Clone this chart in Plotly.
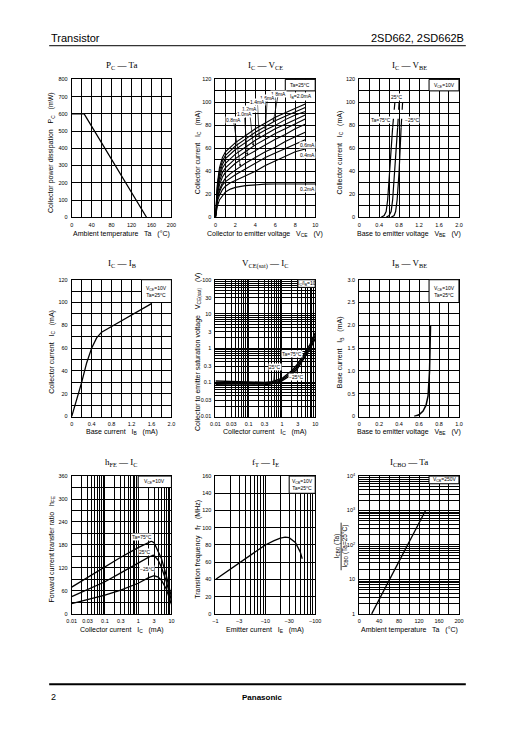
import plotly.graph_objects as go

SANS = "Liberation Sans, Arial, Helvetica, sans-serif"
SERIF = "Liberation Serif, Times New Roman, serif"
PAGE_W, PAGE_H = 516, 729
OFF = 8                      # default body margin of the html page
W, H = PAGE_W - 2 * OFF, PAGE_H - 2 * OFF

# ---------------- data ----------------
# Pc - Ta
pc_ta = [0, 25, 150]
pc_mw = [600, 600, 0]

# Ic - Vce  (Ta = 25 C)
vce_v = [0, 0.05, 0.1, 0.2, 0.4, 0.7, 1, 1.5, 2, 3, 4, 5, 6, 7, 8, 9]
ic_ib20 = [0, 10, 18, 30, 43, 52, 57, 61, 65, 71, 77, 82, 87, 91, 95, 98.5]
ic_ib18 = [0, 9, 17, 28, 40, 49, 54, 58, 62, 68, 74, 79, 84, 88, 92, 95.5]
ic_ib16 = [0, 9, 16, 26, 37, 46, 51, 55, 59, 65, 71, 76, 80, 85, 89, 92]
ic_ib14 = [0, 8, 15, 24, 34, 43, 47, 51, 55, 61, 67, 72, 77, 81, 85, 89]
ic_ib12 = [0, 8, 14, 22, 31, 39, 43, 47, 51, 57, 63, 68, 73, 77, 81, 85.5]
ic_ib10 = [0, 7, 13, 20, 28, 35, 39, 43, 47, 53, 58, 63, 68, 72, 77, 81]
ic_ib08 = [0, 6, 11, 17, 24, 30, 34, 38, 41, 47, 52, 57, 61, 66, 70, 74]
ic_ib06 = [0, 6, 10, 16, 22, 28, 31, 34, 37, 42, 47, 52, 56, 60, 64, 67.5]
ic_ib04 = [0, 5, 9, 14, 19, 24, 27, 30, 32, 36, 40, 45, 49, 53, 57, 59.5]
vce_v02 = [0, 0.05, 0.1, 0.2, 0.4, 0.7, 1, 1.5, 2, 3, 4, 5, 6, 7, 8, 9, 10]
ic_ib02 = [0, 4, 6, 10, 15, 19, 22, 24.5, 26, 27.5, 28.3, 28.8, 29, 29, 29, 29, 29]

# Ic - Vbe
vbe_ic_solid = [0, 1.5, 5, 15, 40, 65, 78]
vbe_ic_dash = [78, 100]
vbe75_solid = [0.44, 0.50, 0.54, 0.57, 0.61, 0.65, 0.67]
vbe75_dash = [0.67, 0.715]
vbe25_solid = [0.54, 0.60, 0.64, 0.67, 0.71, 0.75, 0.77]
vbe25_dash = [0.77, 0.80]
vbem25_solid = [0.64, 0.70, 0.73, 0.76, 0.80, 0.83, 0.84]
vbem25_dash = [0.84, 0.87]

# Ic - Ib
ib_ma = [0, 0.1, 0.2, 0.3, 0.4, 0.5, 0.6, 0.8, 1.0, 1.2, 1.4, 1.6]
ic_of_ib = [0, 14, 30, 47, 60, 69, 74, 79, 84, 89, 94, 99]

# Vce(sat) - Ic
sat_ic = [0.01, 0.03, 0.1, 0.3, 0.5, 1, 2, 3, 5, 7, 10]
sat_75 = [0.085, 0.083, 0.082, 0.085, 0.09, 0.11, 0.17, 0.26, 0.55, 0.95, 1.9]
sat_25 = [0.095, 0.092, 0.09, 0.092, 0.097, 0.12, 0.19, 0.30, 0.65, 1.1, 2.3]
sat_m25 = [0.11, 0.105, 0.10, 0.10, 0.105, 0.13, 0.22, 0.35, 0.75, 1.3, 2.8]

# Ib - Vbe
ibv_vbe = [0.55, 0.60, 0.64, 0.67, 0.69, 0.70, 0.705, 0.71, 0.715]
ibv_ib = [0, 0.04, 0.12, 0.25, 0.45, 0.7, 1.0, 1.5, 2.0]

# hFE - Ic
hfe_ic = [0.01, 0.03, 0.1, 0.3, 1, 2, 2.5, 3, 4, 5, 7, 10]
hfe_75 = [70, 95, 122, 148, 173, 186, 190, 186, 165, 145, 100, 45]
hfe_25 = [45, 64, 84, 107, 132, 148, 152, 153, 140, 122, 85, 35]
hfe_m25 = [27, 37, 49, 62, 80, 94, 98, 100, 96, 88, 65, 25]

# fT - IE
ft_ie = [1, 2, 3, 5, 10, 15, 20, 25, 30, 40, 50, 55]
ft_mhz = [40, 52, 59, 68, 80, 85, 88, 89, 88.5, 83, 72, 64]

# ICBO - Ta
icbo_ta = [25, 133]
icbo_ratio = [1, 1000]

# tick labels
t_0_200 = [0, 40, 80, 120, 160, 200]
t_0_800 = [0, 100, 200, 300, 400, 500, 600, 700, 800]
t_0_10 = [0, 2, 4, 6, 8, 10]
t_0_120 = [0, 20, 40, 60, 80, 100, 120]
t_0_2 = [0, 0.4, 0.8, 1.2, 1.6, 2.0]
t_0_2_txt = ["0", "0.4", "0.8", "1.2", "1.6", "2.0"]
t_log_ic = [0.01, 0.03, 0.1, 0.3, 1, 3, 10]
t_log_ic_txt = ["0.01", "0.03", "0.1", "0.3", "1", "3", "10"]
t_log_v = [0.01, 0.03, 0.1, 0.3, 1, 3, 10, 30, 100]
t_log_v_txt = ["0.01", "0.03", "0.1", "0.3", "1", "3", "10", "30", "100"]
t_0_1 = [0, 0.2, 0.4, 0.6, 0.8, 1.0]
t_0_1_txt = ["0", "0.2", "0.4", "0.6", "0.8", "1.0"]
t_0_3 = [0, 0.5, 1.0, 1.5, 2.0, 2.5, 3.0]
t_0_3_txt = ["0", "0.5", "1.0", "1.5", "2.0", "2.5", "3.0"]
t_0_360 = [0, 60, 120, 180, 240, 300, 360]
t_ie = [1, 3, 10, 30, 100]
t_ie_txt = ["\u22121", "\u22123", "\u221210", "\u221230", "\u2212100"]
t_0_160 = [0, 20, 40, 60, 80, 100, 120, 140, 160]
t_icbo = [1, 10, 100, 1000, 10000]
t_icbo_txt = ["1", "10", "10<sup>2</sup>", "10<sup>3</sup>", "10<sup>4</sup>"]

# ---------------- layout helpers ----------------
COLS = [(68, 170), (215, 317), (362, 464)]
ROWS = [(77, 216), (279, 417), (477, 616)]
TITLE_Y = [63, 263, 463]
XTITLE_Y = [233, 432.5, 632]


def px(x):
    return (x - OFF) / W


def py(y):
    return 1 - (y - OFF) / H


def log_minor(lo, hi):
    vals = []
    e = lo
    while e < hi:
        for m in range(1, 10):
            vals.append(m * 10 ** e)
        e += 1
    vals.append(10 ** hi)
    return vals


fig = go.Figure()
annotations = []
shapes = []

base = dict(showline=True, mirror=True, linecolor="black", linewidth=1,
            showgrid=True, gridcolor="black", gridwidth=0.8, zeroline=False,
            ticks="", tickfont=dict(family=SANS, size=5.5, color="black"),
            fixedrange=True, ticklabelstandoff=2)


def lin_axis(rng, tv, tt=None, minor=None):
    d = dict(base, type="linear", range=rng, tickmode="array", tickvals=tv,
             ticktext=tt if tt is not None else [str(v) for v in tv])
    if minor:
        d["minor"] = dict(tickmode="linear", tick0=0, dtick=minor, showgrid=True,
                          gridcolor="black", gridwidth=0.8, ticklen=0)
    return d


def log_axis(lo, hi, tv, tt):
    d = dict(base, type="log", range=[lo, hi], tickmode="array", tickvals=tv, ticktext=tt)
    d["minor"] = dict(tickmode="array", tickvals=log_minor(lo, hi), showgrid=True,
                      gridcolor="black", gridwidth=0.6, ticklen=0)
    return d


def names(i):
    s = "" if i == 1 else str(i)
    return "xaxis" + s, "yaxis" + s, "x" + s, "y" + s


def page_text(x, y, text, size, family=SANS, xanchor="center", angle=0):
    annotations.append(dict(x=px(x), y=py(y), xref="paper", yref="paper", text=text,
                            xanchor=xanchor, yanchor="middle", textangle=angle,
                            showarrow=False, font=dict(family=family, size=size, color="black")))


def panel(i, xa, ya, title, xtitle, ytitle):
    r, c = divmod(i - 1, 3)
    xn, yn, xr, yr = names(i)
    x0, x1 = COLS[c]
    y0, y1 = ROWS[r]
    xa["domain"] = [px(x0), px(x1)]
    xa["anchor"] = yr
    ya["domain"] = [py(y1), py(y0)]
    ya["anchor"] = xr
    fig.update_layout({xn: xa, yn: ya})
    cx = (x0 + x1) / 2
    page_text(cx, TITLE_Y[r], title, 9, SERIF)
    page_text(cx, XTITLE_Y[r], xtitle, 7)
    if ytitle is not None:
        yx = [47.5, 197, 342.5][c]
        cy = (y0 + y1) / 2 + 4
        page_text(yx, cy, ytitle, 7, angle=-90)


def line(i, x, y, width=1.2, dash="solid"):
    _, _, xr, yr = names(i)
    fig.add_trace(go.Scatter(x=x, y=y, xaxis=xr, yaxis=yr, mode="lines",
                             line=dict(color="black", width=width, dash=dash),
                             showlegend=False, hoverinfo="skip"))


def box(i, fx0, fy0, text, fx1=1.0, fy1=1.0):
    _, _, xr, yr = names(i)
    shapes.append(dict(type="rect", xref=xr + " domain", yref=yr + " domain",
                       x0=fx0, x1=fx1, y0=fy0, y1=fy1, fillcolor="white",
                       line=dict(color="black", width=1), layer="above"))
    annotations.append(dict(xref=xr + " domain", yref=yr + " domain", x=(fx0 + fx1) / 2,
                            y=(fy0 + fy1) / 2, text=text, showarrow=False,
                            xanchor="center", yanchor="middle",
                            font=dict(family=SANS, size=5, color="black")))


def label(i, x, y, text, bg=True):
    _, _, xr, yr = names(i)
    d = dict(xref=xr, yref=yr, x=x, y=y, text=text, showarrow=False,
             xanchor="center", yanchor="middle",
             font=dict(family=SANS, size=5, color="black"), borderpad=0)
    if bg:
        d["bgcolor"] = "white"
    annotations.append(d)


def arrow_label(i, hx, hy, tx, ty, text, head=2):
    _, _, xr, yr = names(i)
    annotations.append(dict(xref=xr, yref=yr, x=hx, y=hy, ax=tx, ay=ty, axref=xr, ayref=yr,
                            text=text, showarrow=True, arrowhead=head, arrowsize=0.7,
                            arrowwidth=0.7, arrowcolor="black", bgcolor="white", borderpad=0,
                            standoff=0, font=dict(family=SANS, size=5, color="black")))


# ---- 1: Pc - Ta
panel(1, lin_axis([0, 200], t_0_200, minor=20), lin_axis([0, 800], t_0_800),
      "P<sub>C</sub> — Ta", "Ambient temperature   Ta   (°C)",
      "Collector power dissipation   P<sub>C</sub>   (mW)")
line(1, pc_ta, pc_mw, 1.3)

# ---- 2: Ic - Vce
panel(2, lin_axis([0, 10], t_0_10, minor=1), lin_axis([0, 120], t_0_120, minor=10),
      "I<sub>C</sub> — V<sub>CE</sub>", "Collector to emitter voltage   V<sub>CE</sub>   (V)",
      "Collector current   I<sub>C</sub>   (mA)")
for arr in [ic_ib20, ic_ib18, ic_ib16, ic_ib14, ic_ib12, ic_ib10, ic_ib08, ic_ib06, ic_ib04]:
    line(2, vce_v, arr, 1.1)
line(2, vce_v02, ic_ib02, 1.1)
box(2, 0.7, 110 / 120, "Ta=25°C")
label(2, 8.6, 105.5, "I<sub>B</sub>=2.0mA")
arrow_label(2, 5.8, 83, 6.3, 107.5, "1.8mA")
arrow_label(2, 5.0, 76, 5.2, 104, "1.6mA")
arrow_label(2, 4.4, 69, 4.2, 100.5, "1.4mA")
arrow_label(2, 3.8, 62, 3.4, 94, "1.2mA")
arrow_label(2, 3.2, 54, 2.9, 89.5, "1.0mA")
arrow_label(2, 2.5, 44, 1.8, 85, "0.8mA")
label(2, 9.2, 62.5, "0.6mA")
label(2, 9.2, 54, "0.4mA")
label(2, 9.2, 25, "0.2mA")

# ---- 3: Ic - Vbe
panel(3, lin_axis([0, 2], t_0_2, t_0_2_txt, minor=0.2), lin_axis([0, 120], t_0_120, minor=10),
      "I<sub>C</sub> — V<sub>BE</sub>", "Base to emitter voltage   V<sub>BE</sub>   (V)",
      "Collector current   I<sub>C</sub>   (mA)")
line(3, vbe75_solid, vbe_ic_solid, 1.2)
line(3, vbe75_dash, vbe_ic_dash, 1.2, "dash")
line(3, vbe25_solid, vbe_ic_solid, 1.2)
line(3, vbe25_dash, vbe_ic_dash, 1.2, "dash")
line(3, vbem25_solid, vbe_ic_solid, 1.2)
line(3, vbem25_dash, vbe_ic_dash, 1.2, "dash")
box(3, 0.7, 110 / 120, "V<sub>CE</sub>=10V")
label(3, 0.75, 105, "25°C")
label(3, 0.44, 85, "Ta=75°C")
label(3, 1.05, 84.5, "\u221225°C")

# ---- 4: Ic - Ib
panel(4, lin_axis([0, 2], t_0_2, t_0_2_txt, minor=0.2), lin_axis([0, 120], t_0_120, minor=10),
      "I<sub>C</sub> — I<sub>B</sub>", "Base current   I<sub>B</sub>   (mA)",
      "Collector current   I<sub>C</sub>   (mA)")
line(4, ib_ma, ic_of_ib, 1.3)
box(4, 0.7, 100 / 120, "V<sub>CE</sub>=10V<br>Ta=25°C")

# ---- 5: Vce(sat) - Ic
panel(5, log_axis(-2, 1, t_log_ic, t_log_ic_txt), log_axis(-2, 2, t_log_v, t_log_v_txt),
      "V<sub>CE(sat)</sub> — I<sub>C</sub>", "Collector current   I<sub>C</sub>   (mA)",
      "Collector to emitter saturation voltage   V<sub>CE(sat)</sub>   (V)")
line(5, sat_ic, sat_75, 1.4)
line(5, sat_ic, sat_25, 1.4)
line(5, sat_ic, sat_m25, 1.4)
box(5, 0.826, 0.944, "I<sub>C</sub>/I<sub>B</sub>=10")
arrow_label(5, 0.33, -0.72, 0.30, -0.17, "Ta=75°C", head=0)
arrow_label(5, -0.25, -0.98, -0.21, -0.54, "25°C", head=0)
arrow_label(5, 0.45, -0.52, 0.41, -0.84, "\u221225°C", head=0)

# ---- 6: Ib - Vbe
panel(6, lin_axis([0, 1], t_0_1, t_0_1_txt, minor=0.1), lin_axis([0, 3], t_0_3, t_0_3_txt, minor=0.25),
      "I<sub>B</sub> — V<sub>BE</sub>", "Base to emitter voltage   V<sub>BE</sub>   (V)",
      "Base current   I<sub>B</sub>   (mA)")
line(6, ibv_vbe, ibv_ib, 1.5)
box(6, 0.7, 2.5 / 3, "V<sub>CE</sub>=10V<br>Ta=25°C")

# ---- 7: hFE - Ic
panel(7, log_axis(-2, 1, t_log_ic, t_log_ic_txt), lin_axis([0, 360], t_0_360, minor=30),
      "h<sub>FE</sub> — I<sub>C</sub>", "Collector current   I<sub>C</sub>   (mA)",
      "Forward current transfer ratio   h<sub>FE</sub>")
line(7, hfe_ic, hfe_75, 1.3)
line(7, hfe_ic, hfe_25, 1.3)
line(7, hfe_ic, hfe_m25, 1.3)
box(7, 2 / 3, 330 / 360, "V<sub>CE</sub>=10V")
label(7, 0.12, 201, "Ta=75°C")
label(7, 0.2, 162, "25°C")
label(7, 0.265, 117, "\u221225°C")

# ---- 8: fT - IE
panel(8, log_axis(0, 2, t_ie, t_ie_txt), lin_axis([0, 160], t_0_160),
      "f<sub>T</sub> — I<sub>E</sub>", "Emitter current   I<sub>E</sub>   (mA)",
      "Transition frequency   f<sub>T</sub>   (MHz)")
line(8, ft_ie, ft_mhz, 1.3)
box(8, 0.739, 140 / 160, "V<sub>CB</sub>=10V<br>Ta=25°C")

# ---- 9: ICBO - Ta
panel(9, lin_axis([0, 200], t_0_200, minor=20), log_axis(0, 4, t_icbo, t_icbo_txt),
      "I<sub>CBO</sub> — Ta", "Ambient temperature   Ta   (°C)", None)
line(9, icbo_ta, icbo_ratio, 1.3)
box(9, 0.7, 0.944, "V<sub>CB</sub>=250V")
page_text(343.5, 548, "I<sub>CBO</sub> (Ta)<br>I<sub>CBO</sub> (Ta=25°C)", 6.5, angle=-90)
shapes.append(dict(type="line", xref="paper", yref="paper", x0=px(343.5), x1=px(343.5),
                   y0=py(524), y1=py(572), line=dict(color="black", width=0.8)))

# ---- page header / footer
page_text(45, 35, "Transistor", 11, xanchor="left")
page_text(471, 35, "2SD662, 2SD662B", 11, xanchor="right")
page_text(45, 700, "2", 9, xanchor="left")
page_text(263, 700, "<b>Panasonic</b>", 8)
shapes += [
    dict(type="line", xref="paper", yref="paper", x0=px(45), x1=px(471), y0=py(43), y1=py(43),
         line=dict(color="black", width=1)),
    dict(type="line", xref="paper", yref="paper", x0=px(45), x1=px(471), y0=py(687), y1=py(687),
         line=dict(color="black", width=2)),
]

fig.update_layout(width=W, height=H, margin=dict(l=0, r=0, t=0, b=0),
                  paper_bgcolor="white", plot_bgcolor="white", showlegend=False,
                  annotations=annotations, shapes=shapes)
fig.write_html("out.html")
